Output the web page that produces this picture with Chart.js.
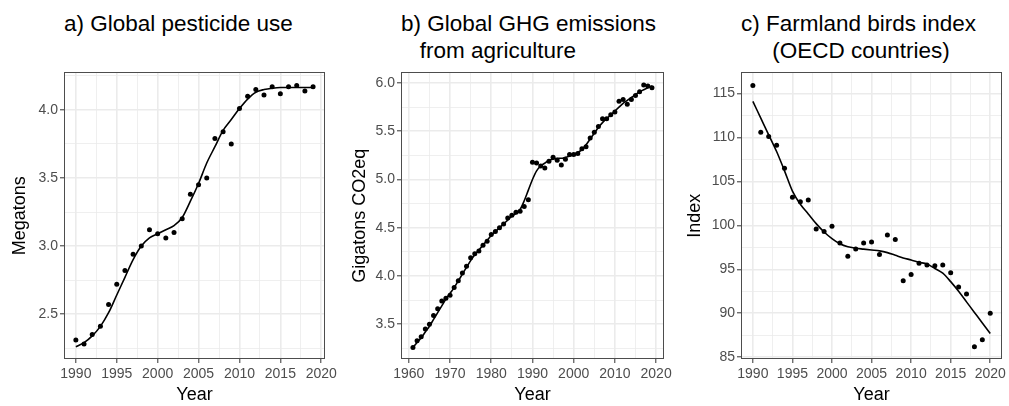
<!DOCTYPE html>
<html>
<head>
<meta charset="utf-8">
<script src="https://cdn.jsdelivr.net/npm/chart.js@4.4.0/dist/chart.umd.min.js"></script>
<style>
  body { margin: 0; background: #fff; }
  #wrap { position: relative; width: 1009px; height: 406px; font-family: 'Liberation Sans', Arial, sans-serif; }
  canvas { position: absolute; top: 62px; }
  .title { position: absolute; top: 10px; font-size: 22.5px; line-height: 27px; color: #000; white-space: pre; }
</style>
</head>
<body>
<div id="wrap">
  <div class="title" style="left:64px">a) Global pesticide use</div>
  <div class="title" style="left:401px">b) Global GHG emissions
   from agriculture</div>
  <div class="title" style="left:741px">c) Farmland birds index
     (OECD countries)</div>
  <canvas id="chartA" width="340" height="344" style="left:0"></canvas>
  <canvas id="chartB" width="335" height="344" style="left:340px"></canvas>
  <canvas id="chartC" width="329" height="344" style="left:680px"></canvas>
</div>
<script>
// a) pesticide use, megatons
const pestYears = [1990, 1991, 1992, 1993, 1994, 1995, 1996, 1997, 1998, 1999,
    2000, 2001, 2002, 2003, 2004, 2005, 2006, 2007, 2008, 2009,
    2010, 2011, 2012, 2013, 2014, 2015, 2016, 2017, 2018, 2019];
const pestValues = [2.31, 2.28, 2.35, 2.41, 2.57, 2.72, 2.82, 2.94, 3.00, 3.12,
    3.09, 3.06, 3.10, 3.20, 3.38, 3.45, 3.50, 3.79, 3.84, 3.75,
    4.01, 4.10, 4.15, 4.11, 4.17, 4.12, 4.17, 4.18, 4.14, 4.17];
const pestFit = [2.26, 2.29, 2.34, 2.41, 2.51, 2.64, 2.77, 2.90, 3.00, 3.06,
    3.09, 3.12, 3.15, 3.21, 3.33, 3.46, 3.61, 3.73, 3.85, 3.93,
    4.01, 4.08, 4.13, 4.15, 4.16, 4.165, 4.165, 4.165, 4.165, 4.165];
const pestYTicks = [2.5, 3.0, 3.5, 4.0];
const pestXTicks = [1990, 1995, 2000, 2005, 2010, 2015, 2020];

// b) GHG emissions from agriculture, Gt CO2eq
const ghgYears = [1961, 1962, 1963, 1964, 1965, 1966, 1967, 1968, 1969, 1970,
    1971, 1972, 1973, 1974, 1975, 1976, 1977, 1978, 1979, 1980,
    1981, 1982, 1983, 1984, 1985, 1986, 1987, 1988, 1989, 1990,
    1991, 1992, 1993, 1994, 1995, 1996, 1997, 1998, 1999, 2000,
    2001, 2002, 2003, 2004, 2005, 2006, 2007, 2008, 2009, 2010,
    2011, 2012, 2013, 2014, 2015, 2016, 2017, 2018, 2019];
const ghgValues = [3.26, 3.33, 3.37, 3.45, 3.50, 3.59, 3.66, 3.74, 3.77, 3.80,
    3.88, 3.95, 4.03, 4.10, 4.19, 4.23, 4.26, 4.32, 4.36, 4.43,
    4.46, 4.50, 4.54, 4.60, 4.63, 4.66, 4.67, 4.72, 4.79, 5.18,
    5.17, 5.14, 5.12, 5.19, 5.23, 5.20, 5.15, 5.21, 5.26, 5.26,
    5.27, 5.32, 5.34, 5.43, 5.49, 5.55, 5.63, 5.63, 5.67, 5.70,
    5.81, 5.83, 5.78, 5.83, 5.87, 5.91, 5.98, 5.97, 5.95];
const ghgFit = [3.26, 3.31, 3.36, 3.42, 3.48, 3.55, 3.62, 3.69, 3.76, 3.82,
    3.88, 3.95, 4.02, 4.09, 4.16, 4.22, 4.27, 4.32, 4.37, 4.42,
    4.46, 4.50, 4.54, 4.58, 4.62, 4.65, 4.69, 4.78, 4.89, 5.00,
    5.09, 5.14, 5.17, 5.20, 5.21, 5.22, 5.22, 5.23, 5.24, 5.26,
    5.28, 5.31, 5.36, 5.42, 5.48, 5.54, 5.59, 5.63, 5.67, 5.71,
    5.75, 5.79, 5.82, 5.85, 5.88, 5.91, 5.93, 5.95, 5.97];
const ghgYTicks = [3.5, 4.0, 4.5, 5.0, 5.5, 6.0];
const ghgXTicks = [1960, 1970, 1980, 1990, 2000, 2010, 2020];

// c) farmland birds index, OECD
const birdYears = [1990, 1991, 1992, 1993, 1994, 1995, 1996, 1997, 1998, 1999,
    2000, 2001, 2002, 2003, 2004, 2005, 2006, 2007, 2008, 2009,
    2010, 2011, 2012, 2013, 2014, 2015, 2016, 2017, 2018, 2019, 2020];
const birdValues = [115.9, 110.6, 110.1, 109.1, 106.5, 103.2, 102.7, 102.9, 99.6, 99.3,
    99.9, 98.0, 96.5, 97.3, 98.0, 98.1, 96.7, 98.9, 98.4, 93.7,
    94.4, 95.7, 95.5, 95.4, 95.5, 94.6, 93.0, 92.2, 86.2, 87.0, 90.0];
const birdFit = [114.1, 112.2, 110.3, 108.4, 106.2, 103.9, 102.4, 101.3, 100.2, 99.25,
    98.5, 97.9, 97.56, 97.4, 97.3, 97.2, 97.1, 96.9, 96.6, 96.3,
    96.06, 95.8, 95.6, 95.1, 94.56, 93.6, 92.5, 91.3, 90.1, 88.9, 87.7];
const birdYTicks = [85, 90, 95, 100, 105, 110, 115];
const birdXTicks = [1990, 1995, 2000, 2005, 2010, 2015, 2020];

// ggplot-style minor breaks halfway between the major ones
function minorBetween(major, lo, hi) {
    const step = major[1] - major[0];
    const out = [];
    for (let i = -1; i < major.length; i++) {
        const v = major[0] + (i + 0.5) * step;
        if (v > lo && v < hi) out.push(v);
    }
    return out;
}

function makeScale(min, max, major, title, fmt, fit) {
    const minor = minorBetween(major, min, max);
    const isMajor = v => major.some(m => Math.abs(m - v) < 1e-6);
    return {
        type: 'linear',
        min: min,
        max: max,
        afterBuildTicks: axis => {
            axis.ticks = major.concat(minor).sort((a, b) => a - b).map(v => ({ value: v }));
        },
        afterFit: fit,
        ticks: {
            autoSkip: false,
            maxRotation: 0,
            color: '#4D4D4D',
            font: { size: 14 },
            padding: 2,
            callback: v => isMajor(v) ? fmt(v) : ''
        },
        grid: {
            color: '#EBEBEB',
            lineWidth: ctx => (ctx.tick && isMajor(ctx.tick.value)) ? 1.6 : 0.8,
            tickLength: 4,
            tickWidth: 1,
            tickColor: ctx => (ctx.tick && isMajor(ctx.tick.value)) ? '#333333' : 'rgba(0,0,0,0)'
        },
        border: { display: false },
        title: { display: true, text: title, color: '#000', font: { size: 18 }, padding: { top: 0, bottom: 0 } }
    };
}

// full box round the panel, like theme_bw
const panelBorder = {
    id: 'panelBorder',
    afterDraw(chart) {
        const { ctx, chartArea: a } = chart;
        ctx.save();
        ctx.strokeStyle = '#4D4D4D';
        ctx.lineWidth = 1;
        ctx.strokeRect(Math.round(a.left) + 0.5, Math.round(a.top) + 0.5,
            Math.round(a.right - a.left) - 1, Math.round(a.bottom - a.top) - 1);
        ctx.restore();
    }
};

function drawPanel(id, p) {
    const points = p.years.map((x, i) => ({ x: x, y: p.values[i] }));
    const curve = p.years.map((x, i) => ({ x: x, y: p.fit[i] }));
    const xScale = makeScale(p.xMin, p.xMax, p.xTicks, 'Year', v => String(v),
        s => { s.height = 47; });
    xScale.ticks.padding = 3;
    const yScale = makeScale(p.yMin, p.yMax, p.yTicks, p.yTitle, p.yFmt,
        s => { s.width = p.axisWidth; });
    yScale.title.padding = { top: p.titlePad, bottom: 0 };

    return new Chart(document.getElementById(id), {
        type: 'scatter',
        data: {
            datasets: [{
                data: points,
                backgroundColor: '#000',
                borderWidth: 0,
                pointRadius: 2.5
            }, {
                type: 'line',
                data: curve,
                borderColor: '#000',
                borderWidth: 1.6,
                pointRadius: 0,
                fill: false,
                cubicInterpolationMode: 'monotone'
            }]
        },
        options: {
            responsive: false,
            animation: false,
            layout: { padding: { top: 8, right: p.padRight, bottom: 0, left: 0 } },
            plugins: { legend: { display: false }, tooltip: { enabled: false } },
            scales: { x: xScale, y: yScale }
        },
        plugins: [panelBorder]
    });
}

drawPanel('chartA', {
    years: pestYears, values: pestValues, fit: pestFit,
    xMin: 1988.55, xMax: 2020.45, xTicks: pestXTicks,
    yMin: 2.17, yMax: 4.276, yTicks: pestYTicks,
    yTitle: 'Megatons', yFmt: v => v.toFixed(1),
    axisWidth: 64, titlePad: 9, padRight: 12
});

drawPanel('chartB', {
    years: ghgYears, values: ghgValues, fit: ghgFit,
    xMin: 1958.1, xMax: 2021.9, xTicks: ghgXTicks,
    yMin: 3.14, yMax: 6.11, yTicks: ghgYTicks,
    yTitle: 'Gigatons CO2eq', yFmt: v => v.toFixed(1),
    axisWidth: 61, titlePad: 9, padRight: 11
});

drawPanel('chartC', {
    years: birdYears, values: birdValues, fit: birdFit,
    xMin: 1988.5, xMax: 2021.5, xTicks: birdXTicks,
    yMin: 84.8, yMax: 117.4, yTicks: birdYTicks,
    yTitle: 'Index', yFmt: v => String(v),
    axisWidth: 61, titlePad: 4, padRight: 4
});
</script>
</body>
</html>
